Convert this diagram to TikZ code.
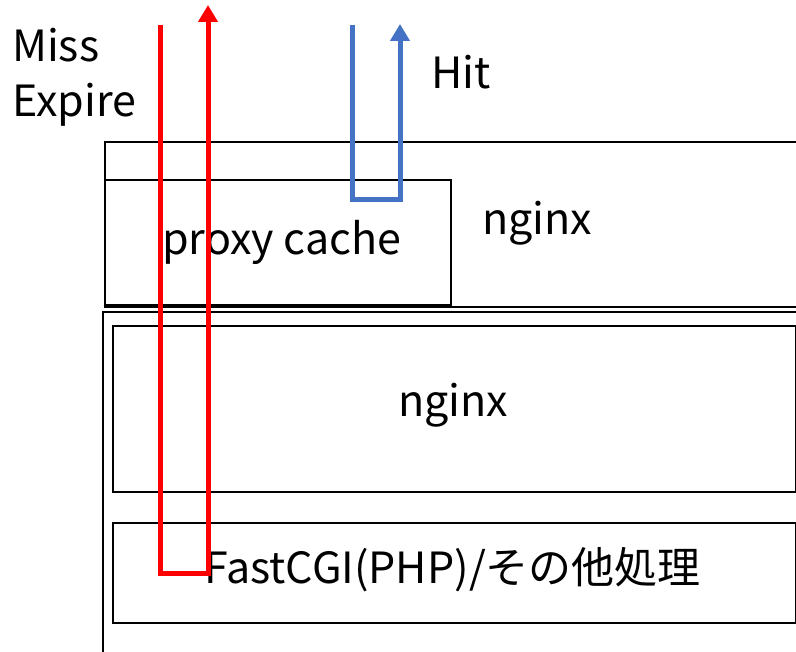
\documentclass[tikz,border=0pt]{standalone}
\usepackage{fontspec}
\setmainfont{Noto Sans CJK JP}
\usetikzlibrary{arrows.meta,positioning}
\definecolor{vermelho}{HTML}{FF0000}
\definecolor{azul}{HTML}{4472C4}

\begin{document}
\begin{tikzpicture}[
  x=1pt,y=-1pt,
  caixa/.style={draw,line width=2pt,anchor=north west,inner sep=0pt},
  rotulo/.style={anchor=base west,inner sep=0pt,font=\fontsize{43}{50}\selectfont},
  seta/.style={line width=5pt,-{Triangle[width=19pt,length=17pt]}}
]
  \useasboundingbox (0,0) rectangle (796,652);
  \clip (0,0) rectangle (796,652);
  % frontend nginx com proxy cache
  \node[caixa,minimum width=700,minimum height=165] (nginxfront) at (104,141) {};
  \node[caixa,minimum width=346,minimum height=125] (cache) at (104,179) {};
  % backend
  \node[caixa,minimum width=700,minimum height=360] (backend) at (102,311) {};
  \node[caixa,minimum width=683,minimum height=166] (nginxback) at (112,325) {};
  \node[caixa,minimum width=683,minimum height=100] (fcgi) at (112,522) {};
  \node[rotulo] (tnginxfront) at (482,235) {nginx};
  \node[rotulo] (tcache) at (162,255) {proxy cache};
  \node[rotulo] (tnginxback) at (398,417) {nginx};
  \node[rotulo] (tfcgi) at (204,583) {FastCGI(PHP)/その他処理};
  \node[rotulo] (tmiss) at (12,62) {Miss};
  \node[rotulo] (texpire) at (12,117) {Expire};
  \node[rotulo] (thit) at (431,89) {Hit};
  % caminhos
  \coordinate (missin) at (160,25);
  \coordinate (missa) at (160,573);
  \coordinate (missb) at (208,573);
  \coordinate (missout) at (208,5);
  \coordinate (hitin) at (352,25);
  \coordinate (hita) at (352,200);
  \coordinate (hitb) at (400,200);
  \coordinate (hitout) at (400,24);
  \draw[seta,vermelho] (missin) -- (missa) -- (missb) -- (missout);
  \draw[seta,azul] (hitin) -- (hita) -- (hitb) -- (hitout);
\end{tikzpicture}
\end{document}
